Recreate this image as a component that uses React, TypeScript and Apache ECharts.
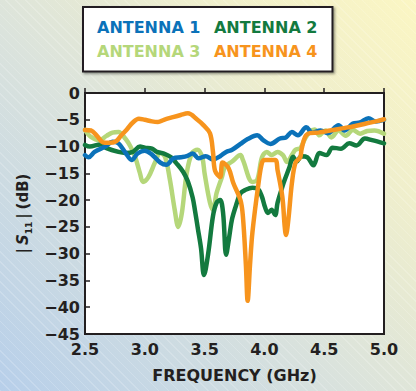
import React, { useEffect, useRef } from "react";
import * as echarts from "echarts";

const seriesNames = ["ANTENNA 1", "ANTENNA 2", "ANTENNA 3", "ANTENNA 4"];
const seriesColors = ["#0b72b9", "#137a3f", "#b5d77a", "#f7941d"];

const xTicks = [2.5, 3.0, 3.5, 4.0, 4.5, 5.0];
const yTicks = [0, -5, -10, -15, -20, -25, -30, -35, -40, -45];

const a1Freq = [2.5, 2.53, 2.58, 2.67, 2.73, 2.78, 2.84, 2.89, 2.94, 3.0, 3.06, 3.13, 3.18, 3.24, 3.3, 3.35, 3.4, 3.45, 3.51, 3.57, 3.63, 3.68, 3.73, 3.8, 3.86, 3.94, 3.99, 4.05, 4.13, 4.18, 4.23, 4.28, 4.35, 4.4, 4.47, 4.53, 4.62, 4.67, 4.74, 4.8, 4.87, 4.93, 5.0];
const a1Db = [-11.6, -12.0, -11.0, -10.0, -9.1, -9.4, -11.2, -12.5, -11.3, -10.8, -11.5, -13.0, -13.4, -12.2, -12.0, -11.8, -11.3, -12.2, -11.8, -12.4, -11.8, -11.0, -10.6, -9.5, -8.6, -7.9, -8.8, -9.5, -8.5, -8.3, -7.3, -7.9, -6.4, -7.4, -7.0, -7.5, -6.0, -7.0, -5.7, -5.5, -4.7, -5.3, -5.0];

const a2Freq = [2.5, 2.54, 2.63, 2.68, 2.78, 2.84, 2.9, 2.96, 3.0, 3.06, 3.1, 3.16, 3.22, 3.26, 3.32, 3.36, 3.4, 3.42, 3.445, 3.47, 3.495, 3.53, 3.57, 3.6, 3.63, 3.655, 3.68, 3.705, 3.73, 3.77, 3.8, 3.84, 3.9, 3.95, 3.98, 4.005, 4.03, 4.06, 4.09, 4.11, 4.15, 4.17, 4.21, 4.24, 4.27, 4.31, 4.36, 4.41, 4.46, 4.52, 4.57, 4.64, 4.71, 4.77, 4.84, 4.9, 5.0];
const a2Db = [-9.7, -10.0, -9.6, -10.3, -11.0, -11.2, -11.0, -10.0, -10.2, -10.4, -11.0, -11.3, -12.0, -13.0, -14.7, -16.5, -19.5, -22.0, -25.5, -29.0, -34.0, -30.0, -23.0, -20.5, -20.0, -22.5, -30.2, -27.0, -23.5, -20.5, -18.7, -18.1, -17.7, -18.0, -19.4, -21.3, -22.4, -21.8, -22.8, -20.5, -17.5, -16.2, -13.8, -11.9, -12.8, -11.8, -12.0, -13.5, -11.2, -11.6, -10.2, -10.4, -9.4, -9.8, -8.5, -8.8, -9.4];

const a3Freq = [2.5, 2.55, 2.62, 2.68, 2.73, 2.78, 2.84, 2.88, 2.92, 2.96, 2.985, 3.03, 3.085, 3.13, 3.17, 3.21, 3.25, 3.28, 3.31, 3.35, 3.395, 3.44, 3.48, 3.5, 3.545, 3.57, 3.6, 3.645, 3.67, 3.73, 3.8, 3.82, 3.9, 3.94, 3.98, 4.02, 4.06, 4.11, 4.155, 4.19, 4.23, 4.26, 4.3, 4.34, 4.38, 4.42, 4.46, 4.51, 4.56, 4.62, 4.68, 4.74, 4.8, 4.86, 4.92, 5.0];
const a3Db = [-6.9, -8.2, -8.8, -8.0, -7.4, -7.3, -8.6, -10.0, -12.0, -15.0, -16.6, -15.7, -13.0, -11.2, -12.0, -16.2, -21.8, -25.0, -22.4, -15.0, -11.2, -10.6, -12.0, -15.0, -20.5, -21.8, -18.7, -15.7, -13.8, -12.8, -11.6, -12.5, -16.6, -16.2, -12.0, -11.0, -11.6, -11.0, -11.6, -12.9, -11.6, -10.6, -10.3, -8.5, -7.2, -6.8, -7.9, -7.0, -8.3, -7.0, -8.0, -6.9, -7.6, -7.1, -7.0, -7.6];

const a4Freq = [2.5, 2.55, 2.6, 2.65, 2.7, 2.76, 2.8, 2.85, 2.9, 2.95, 3.0, 3.06, 3.11, 3.16, 3.22, 3.3, 3.36, 3.44, 3.49, 3.545, 3.57, 3.587, 3.63, 3.65, 3.7, 3.74, 3.8, 3.82, 3.845, 3.86, 3.88, 3.9, 3.95, 3.98, 4.005, 4.09, 4.11, 4.15, 4.17, 4.18, 4.2, 4.23, 4.26, 4.3, 4.31, 4.34, 4.38, 4.45, 4.55, 4.65, 4.75, 4.85, 4.95, 5.0];
const a4Db = [-6.9, -7.0, -8.0, -9.2, -9.3, -9.0, -8.0, -6.8, -5.5, -4.8, -5.0, -5.3, -5.4, -5.0, -4.6, -4.1, -3.8, -5.0, -6.0, -7.5, -11.0, -14.5, -15.7, -13.0, -14.0, -16.8, -20.0, -23.0, -32.0, -38.8, -32.0, -26.0, -17.0, -13.0, -12.5, -12.5, -14.4, -19.4, -25.0, -26.5, -23.7, -16.8, -13.0, -12.0, -10.6, -8.2, -7.5, -7.4, -7.0, -6.6, -6.2, -5.7, -5.2, -4.9];

const FONT = "'DejaVu Sans', 'Open Sans', sans-serif";
const INK = "#231f20";

function pairs(f: number[], d: number[]) {
  return f.map((x, i) => [x, d[i]]);
}

export default function App() {
  const ref = useRef<HTMLDivElement>(null);
  useEffect(() => {
    if (!ref.current) return;
    const chart = echarts.init(ref.current, undefined, { renderer: "svg" });
    const data = [pairs(a1Freq, a1Db), pairs(a2Freq, a2Db), pairs(a3Freq, a3Db), pairs(a4Freq, a4Db)];
    const drawOrder = [2, 1, 0, 3];
    chart.setOption({
      animation: false,
      backgroundColor: "transparent",
      textStyle: { fontFamily: FONT },
      grid: {
        left: 85,
        right: 32,
        top: 93,
        bottom: 57,
        show: true,
        backgroundColor: "#ffffff",
        borderColor: INK,
        borderWidth: 2,
      },
      legend: {
        data: seriesNames.map((n, i) => ({ name: n, textStyle: { color: seriesColors[i] } })),
        left: 83,
        top: 7,
        width: 228,
        icon: "none",
        itemWidth: 0,
        itemHeight: 10,
        itemGap: 8.5,
        padding: [12, 15, 12, 9],
        backgroundColor: "#ffffff",
        borderColor: INK,
        borderWidth: 2,
        shadowColor: "rgba(0,0,0,0.4)",
        shadowBlur: 2,
        shadowOffsetX: 1.5,
        shadowOffsetY: 1.5,
        textStyle: { fontFamily: FONT, fontWeight: "bold", fontSize: 16, lineHeight: 15.5 },
      },
      xAxis: {
        type: "value",
        min: xTicks[0],
        max: xTicks[xTicks.length - 1],
        interval: 0.5,
        name: "FREQUENCY (GHz)",
        nameLocation: "middle",
        nameGap: 33,
        nameTextStyle: { color: INK, fontWeight: "bold", fontSize: 16, fontFamily: FONT },
        axisLine: { show: true, lineStyle: { color: INK, width: 2 } },
        axisTick: { show: true, inside: true, length: 5, lineStyle: { color: INK, width: 1.5 } },
        axisLabel: {
          color: INK,
          fontWeight: "bold",
          fontSize: 16,
          fontFamily: FONT,
          margin: 7,
          formatter: (v: number) => v.toFixed(1),
        },
        splitLine: { show: false },
      },
      yAxis: {
        type: "value",
        min: yTicks[yTicks.length - 1],
        max: yTicks[0],
        interval: 5,
        name: "{b||}{s|S}{sub|11}{b||} {b|(dB)}",
        nameLocation: "middle",
        nameRotate: 90,
        nameGap: 52,
        nameTextStyle: {
          color: INK,
          fontFamily: FONT,
          rich: {
            b: { color: INK, fontWeight: "bold", fontSize: 15, fontFamily: FONT, lineHeight: 20 },
            s: { color: INK, fontWeight: "bold", fontStyle: "italic", fontSize: 15, fontFamily: FONT, lineHeight: 20, padding: [0, 0, 0, 3] },
            sub: { color: INK, fontWeight: "bold", fontSize: 9, fontFamily: FONT, verticalAlign: "bottom", lineHeight: 12, padding: [0, 3, 0, 0] },
          },
        },
        axisLine: { show: true, lineStyle: { color: INK, width: 2 } },
        axisTick: { show: true, inside: true, length: 5, lineStyle: { color: INK, width: 1.5 } },
        axisLabel: {
          color: INK,
          fontWeight: "bold",
          fontSize: 16,
          fontFamily: FONT,
          margin: 5,
          formatter: (v: number) => (v === 0 ? "0" : "\u2212" + Math.abs(v)),
        },
        splitLine: { show: false },
      },
      series: drawOrder.map((i) => ({
        name: seriesNames[i],
        type: "line",
        data: data[i],
        smooth: 0.35,
        showSymbol: false,
        symbol: "none",
        clip: true,
        lineStyle: { color: seriesColors[i], width: 4.5, cap: "round", join: "round" },
        itemStyle: { color: seriesColors[i] },
        z: 2,
      })),
    });
    return () => chart.dispose();
  }, []);

  return (
    <div
      style={{
        position: "fixed",
        left: 0,
        top: 0,
        width: 416,
        height: 391,
        background:
          "repeating-linear-gradient(45deg, rgba(255,255,255,0.18) 0px, rgba(255,255,255,0.18) 1px, rgba(255,255,255,0) 1px, rgba(255,255,255,0) 7px), linear-gradient(45deg, #b7cfea 0%, #dbe3dc 45%, #f0efcc 75%, #fbf6c3 100%)",
      }}
    >
      <div ref={ref} style={{ width: 416, height: 391 }} />
    </div>
  );
}
